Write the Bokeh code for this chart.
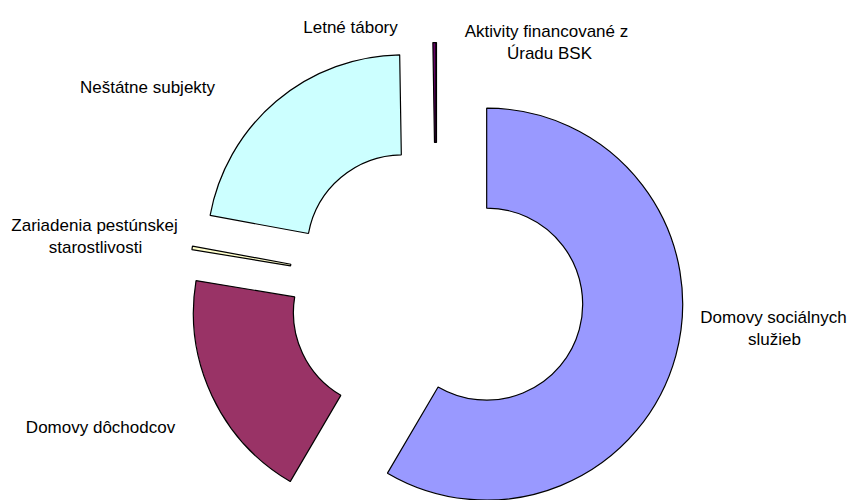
import numpy as np
from bokeh.plotting import figure
from bokeh.models import Range1d, ColumnDataSource
from bokeh.embed import file_html
from bokeh.resources import INLINE
from bokeh.core.properties import value

# ---- data (percent shares) ----
categories = [
    "Domovy sociálnych služieb",
    "Domovy dôchodcov",
    "Zariadenia pestúnskej starostlivosti",
    "Neštátne subjekty",
    "Letné tábory",
    "Aktivity financované z Úradu BSK",
]
shares = [58.47, 19.17, 0.28, 21.86, 0.25, 0.01]

# ---- styles / layout ----
colors = ["#9999FF", "#993366", "#FFFFCC", "#CCFFFF", "#660066", "#FF8080"]
W, H = 852, 500
CX, CY = 436, H - 290          # donut centre (data units = pixels)
R_OUT, R_IN = 196, 96
EXPLODE = 52

# label lines: (text, x centre, baseline y from top)
label_lines = [
    ("Domovy sociálnych", 773, 317),
    ("služieb", 774, 339),
    ("Domovy dôchodcov", 100, 427),
    ("Zariadenia pestúnskej", 94, 225),
    ("starostlivosti", 95, 247),
    ("Neštátne subjekty", 147, 87),
    ("Letné tábory", 350, 27),
    ("Aktivity financované z", 546, 31),
    ("Úradu BSK", 549, 53),
]

vals = np.array(shares, dtype=float)
frac = vals / vals.sum()
t_end = np.cumsum(frac) * 360.0           # clockwise degrees from 12 o'clock
t_start = t_end - frac * 360.0
t_mid = (t_start + t_end) / 2.0

xs = CX + EXPLODE * np.sin(np.radians(t_mid))
ys = CY + EXPLODE * np.cos(np.radians(t_mid))
start_angle = np.radians(90.0 - t_end)
end_angle = np.radians(90.0 - t_start)

src = ColumnDataSource(dict(
    x=xs, y=ys, start=start_angle, end=end_angle,
    color=colors, name=categories,
))

p = figure(width=W, height=H, x_range=Range1d(0, W), y_range=Range1d(0, H),
           output_backend="svg", toolbar_location=None, min_border=0,
           x_axis_type=None, y_axis_type=None)
p.grid.visible = False
p.outline_line_color = None
p.background_fill_color = "white"
p.border_fill_color = "white"

p.annular_wedge(x="x", y="y", inner_radius=R_IN, outer_radius=R_OUT,
                start_angle="start", end_angle="end",
                fill_color="color", line_color="black", line_width=1.2,
                source=src)

lsrc = ColumnDataSource(dict(
    x=[l[1] for l in label_lines],
    y=[H - l[2] for l in label_lines],
    text=[l[0] for l in label_lines],
))
p.text(x="x", y="y", text="text", source=lsrc,
       text_font=value("Liberation Sans"), text_font_size="17px",
       text_align="center", text_baseline="alphabetic", text_color="black")

open("out.html", "w").write(file_html(p, INLINE))
